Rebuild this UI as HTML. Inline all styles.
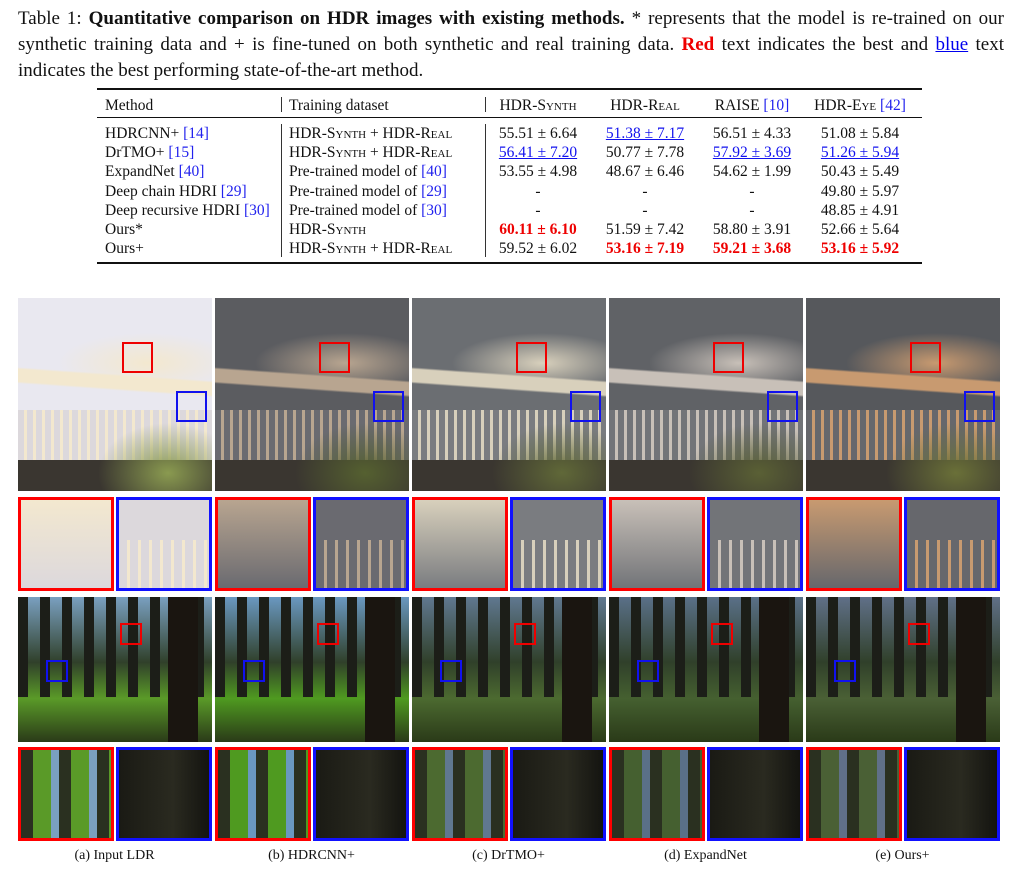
<!DOCTYPE html>
<html><head><meta charset="utf-8">
<style>
body{margin:0;width:1019px;height:871px;background:#fff;position:relative;overflow:hidden;font-family:"Liberation Serif",serif;color:#111}
.cap{position:absolute;left:18px;width:986px;font-size:19px;line-height:26px;top:6px;text-align:justify}
.red{color:#e00;font-weight:bold}.blue{color:#00e;text-decoration:underline}
.sc{font-variant:small-caps}
.t{position:absolute;font-size:15.5px;white-space:nowrap;line-height:19px}
.rule{position:absolute;left:97px;width:825px;background:#111}
.vl{position:absolute;width:1px;background:#333}
.ref{color:#22e}
.c{text-align:center;width:120px}
.b{color:#e00;font-weight:bold}.u{color:#11e;text-decoration:underline}
.img{position:absolute;overflow:hidden}
.box{position:absolute;border:2px solid;box-sizing:border-box}
.crop{position:absolute;border:3px solid;box-sizing:border-box;overflow:hidden}
.lab{position:absolute;top:848px;font-size:14px;width:193px;text-align:center}
</style></head><body>
<div class="cap">Table 1: <b>Quantitative comparison on HDR images with existing methods.</b> * represents that the model is re-trained on our synthetic training data and + is fine-tuned on both synthetic and real training data. <span class="red">Red</span> text indicates the best and <span class="blue" style="color:#00e;font-weight:normal">blue</span> text indicates the best performing state-of-the-art method.</div>

<div class="rule" style="top:88px;height:2px"></div>
<div class="rule" style="top:117px;height:1px"></div>
<div class="rule" style="top:262px;height:2px"></div>
<div class="vl" style="left:281px;top:97px;height:15px"></div>
<div class="vl" style="left:485px;top:97px;height:15px"></div>
<div class="vl" style="left:281px;top:124px;height:133px"></div>
<div class="vl" style="left:485px;top:124px;height:133px"></div>
<div id="tbl"></div>

<div id="figs"></div>

<script>
const tbl=document.getElementById('tbl');
function put(html,x,y,cls){const d=document.createElement('div');d.className='t '+(cls||'');d.style.left=x+'px';d.style.top=y+'px';d.innerHTML=html;


tbl.appendChild(d);}
put('Method',105,96);put('Training dataset',289,96);
const colX=[478,585,692,800];
const heads=['HDR-<span class="sc">Synth</span>','HDR-<span class="sc">Real</span>','RAISE <span class="ref">[10]</span>','HDR-<span class="sc">Eye</span> <span class="ref">[42]</span>'];
heads.forEach((h,i)=>put(h,colX[i],96,'c'));
const methods=['HDRCNN+ <span class="ref">[14]</span>','DrTMO+ <span class="ref">[15]</span>','ExpandNet <span class="ref">[40]</span>','Deep chain HDRI <span class="ref">[29]</span>','Deep recursive HDRI <span class="ref">[30]</span>','Ours*','Ours+'];
const HR='HDR-<span class="sc">Synth</span> + HDR-<span class="sc">Real</span>';
const train=[HR,HR,'Pre-trained model of <span class="ref">[40]</span>','Pre-trained model of <span class="ref">[29]</span>','Pre-trained model of <span class="ref">[30]</span>','HDR-<span class="sc">Synth</span>',HR];
const vals=[
['55.51 ± 6.64','u51.38 ± 7.17','56.51 ± 4.33','51.08 ± 5.84'],
['u56.41 ± 7.20','50.77 ± 7.78','u57.92 ± 3.69','u51.26 ± 5.94'],
['53.55 ± 4.98','48.67 ± 6.46','54.62 ± 1.99','50.43 ± 5.49'],
['-','-','-','49.80 ± 5.97'],
['-','-','-','48.85 ± 4.91'],
['b60.11 ± 6.10','51.59 ± 7.42','58.80 ± 3.91','52.66 ± 5.64'],
['59.52 ± 6.02','b53.16 ± 7.19','b59.21 ± 3.68','b53.16 ± 5.92']];
for(let r=0;r<7;r++){const y=124+r*19.2;put(methods[r],105,y);put(train[r],289,y);
vals[r].forEach((v,i)=>{let c='';if(v[0]=='u'){c='u';v=v.slice(1)}else if(v[0]=='b'){c='b';v=v.slice(1)}put('<span class="'+c+'">'+v+'</span>',colX[i],y,'c');});}

const figs=document.getElementById('figs');
const cx=[18,215,412,609,806];
const sky=['#e9e8f0','#5b5c60','#6b6e72','#606266','#56585c'];
const water=['#dcd8dc','#6a6a70','#7a7c80','#727478','#66676c'];
const bridge=['#f3e8cf','#b8a590','#d8d0bc','#c8c0b8','#c89a70'];
const grass=['#8a9a50','#556030','#606838','#5a6035','#6a7038'];
const fsky=['#7aa0c0','#6a98c0','#607890','#5a7088','#607088'];
const fgrd=['#5a9a28','#4f9a20','#4c6a30','#456030','#4a6035'];
const names=['input-ldr','hdrcnn','drtmo','expandnet','ours'];
const labels=['(a) Input LDR','(b) HDRCNN+','(c) DrTMO+','(d) ExpandNet','(e) Ours+'];
function el(cls,style,name){const d=document.createElement('div');d.className=cls;d.setAttribute('style',style);


figs.appendChild(d);return d;}
for(let i=0;i<5;i++){const x=cx[i];
 el('img',`left:${x}px;top:298px;width:194px;height:193px;background:
 radial-gradient(ellipse 90px 30px at 130px 65px,${bridge[i]},transparent),
 linear-gradient(184deg,transparent 40%,${bridge[i]} 41%,${bridge[i]} 47%,transparent 48%),
 radial-gradient(ellipse 70px 50px at 150px 175px,${grass[i]},transparent),
 repeating-linear-gradient(90deg,${water[i]} 0 6px,${bridge[i]} 6px 9px) 0 112px/194px 50px no-repeat,
 linear-gradient(180deg,${sky[i]} 0 58%,${water[i]} 58% 82%,#3a3630 82%)`,'bridge-image-'+names[i]);
 el('box',`left:${x+104}px;top:342px;width:31px;height:31px;border-color:#e00`,'red-zoom-box');
 el('box',`left:${x+158}px;top:391px;width:31px;height:31px;border-color:#11e`,'blue-zoom-box');
 el('crop',`left:${x}px;top:497px;width:96px;height:94px;border-color:#f00;background:linear-gradient(180deg,${bridge[i]},${water[i]})`,'bridge-crop-red-'+names[i]);
 el('crop',`left:${x+98}px;top:497px;width:96px;height:94px;border-color:#11f;background:repeating-linear-gradient(90deg,${water[i]} 0 8px,${bridge[i]} 8px 11px) 0 40px/96px 54px no-repeat,${water[i]}`,'bridge-crop-blue-'+names[i]);
 el('img',`left:${x}px;top:597px;width:194px;height:145px;background:
 linear-gradient(90deg,transparent 150px,#1a1510 150px 180px,transparent 180px),
 repeating-linear-gradient(90deg,#1c1e18 0 10px,transparent 10px 22px) 0 0/194px 100px no-repeat,
 linear-gradient(180deg,${fsky[i]} 0,#30402a 45%,${fgrd[i]} 70%,#2a3a18 100%)`,'forest-image-'+names[i]);
 el('box',`left:${x+102}px;top:623px;width:22px;height:22px;border-color:#e00`,'red-zoom-box');
 el('box',`left:${x+28}px;top:660px;width:22px;height:22px;border-color:#11e`,'blue-zoom-box');
 el('crop',`left:${x}px;top:747px;width:96px;height:94px;border-color:#f00;background:repeating-linear-gradient(90deg,#2a3020 0 12px,${fgrd[i]} 12px 30px,${fsky[i]} 30px 38px)`,'forest-crop-red-'+names[i]);
 el('crop',`left:${x+98}px;top:747px;width:96px;height:94px;border-color:#11f;background:linear-gradient(90deg,#1a1a14,#2a2a20 60%,#141410)`,'forest-crop-blue-'+names[i]);
 const l=el('lab',`left:${x}px`,'subfigure-label');l.textContent=labels[i];
}
</script>
</body></html>
